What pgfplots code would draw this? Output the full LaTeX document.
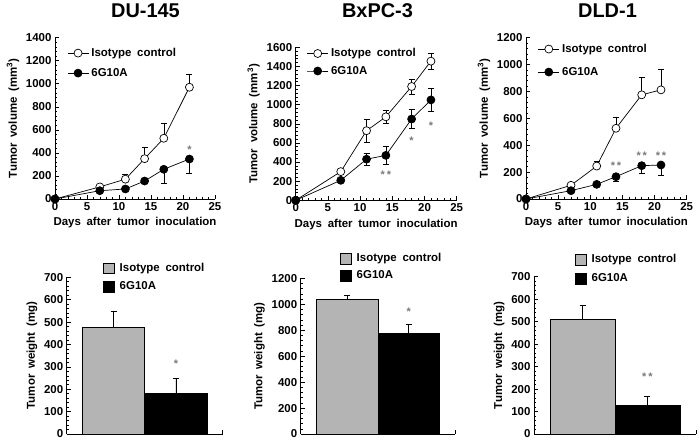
\documentclass[border=0pt]{standalone}
\usepackage{pgfplots}
\pgfplotsset{compat=1.18}
\usepackage{fontspec}
\setmainfont{Liberation Sans}[WordSpace=1.8]
\definecolor{bargray}{RGB}{180,180,180}
\definecolor{stargray}{RGB}{120,120,120}
\newcommand\lf{\bfseries\fontsize{11.5}{13}\selectfont}
\newcommand\tf{\bfseries\fontsize{20}{22}\selectfont}
\newcommand\starf{\bfseries\fontsize{11}{11}\selectfont}

\pgfplotsset{
  common/.style={
    scale only axis, clip=false,
    axis lines=left, axis line style={-, line width=0.8pt},
    tick align=inside, minor tick num=4,
    major tick length=4bp, minor tick length=2.2bp,
    every tick/.style={black, line width=0.6pt},
    /pgf/number format/assume math mode=true,
    /pgf/number format/1000 sep={},
    tick label style={font=\lf},
    label style={font=\lf},
    scaled y ticks=false,
    ymin=0, xmin=0,
    legend style={draw=none, fill=none, font=\lf, anchor=north west, inner sep=0pt,
      column sep=2bp,
      nodes={inner sep=0.5bp, text height=8.5bp, text depth=2.5bp}},
    legend cell align=left,
  },
  linep/.style={common, xmax=25, xtick={0,5,...,25},
    xlabel={Days after tumor inoculation},
    ylabel={Tumor volume (mm\textsuperscript{3})},
    legend image code/.code={\draw[mark repeat=2,mark phase=2,##1] plot coordinates {(0bp,0bp)(10.5bp,0bp)(21bp,0bp)};},
  },
  barp/.style={common, xmax=10, xtick={10}, xticklabels={}, minor x tick num=0,
    ylabel={Tumor weight (mg)},
    legend image code/.code={\draw[##1] (0bp,-5.3bp) rectangle (10.5bp,5.3bp);},
  },
  iso/.style={black, line width=0.7pt, mark=*, mark size=4bp, mark options={fill=white, line width=0.7pt}},
  anti/.style={black, line width=0.7pt, mark=*, mark size=4bp, mark options={fill=black}},
  eb/.style={error bars/.cd, y dir=#1, y explicit,
    error bar style={line width=0.6pt},
    error mark options={line width=0.6pt, mark size=3bp, rotate=90}},
}

\begin{document}
\begin{tikzpicture}
\useasboundingbox (0,0) rectangle (700bp,-441bp);

\node[font=\tf] at (145.5bp,-10.5bp) {DU-145};
\node[font=\tf] at (377.5bp,-10.5bp) {BxPC-3};
\node[font=\tf] at (607.5bp,-10.5bp) {DLD-1};

% ---------- DU-145 volume
\begin{axis}[linep, at={(55bp,-199bp)}, anchor=origin, width=160bp, height=161.3bp,
  ymax=1400, ytick={0,200,...,1400},
  legend style={at={(0.075,0.943)}, row sep=8bp}]
\addplot[iso, eb=plus] coordinates {(0,0) +- (0,0) (7,105) +- (0,15) (11,172) +- (0,40) (14,350) +- (0,100) (17,527) +- (0,130) (21,970) +- (0,115)};
\addlegendentry{Isotype control}
\addplot[anti, eb=minus] coordinates {(0,0) +- (0,0) (7,72) +- (0,10) (11,87) +- (0,10) (14,156) +- (0,20) (17,258) +- (0,122) (21,347) +- (0,127)};
\addlegendentry{6G10A}
\node[font=\starf, text=stargray] at (axis cs:21,430) {*};
\end{axis}

% ---------- BxPC-3 volume
\begin{axis}[linep, at={(295.7bp,-200.3bp)}, anchor=origin, width=161bp, height=153bp,
  ymax=1600, ytick={0,200,...,1600},
  legend style={at={(0.068,1.0)}, row sep=5.5bp}]
\addplot[iso, eb=both] coordinates {(0,0) +- (0,0) (7,300) +- (0,20) (11,728) +- (0,124) (14,873) +- (0,65) (18,1190) +- (0,78) (21,1455) +- (0,84)};
\addlegendentry{Isotype control}
\addplot[anti, eb=both] coordinates {(0,0) +- (0,0) (7,209) +- (0,15) (11,430) +- (0,62) (14,470) +- (0,98) (18,850) +- (0,97) (21,1050) +- (0,124)};
\addlegendentry{6G10A}
\node[font=\starf, text=stargray] at (axis cs:14,270) {*\,*};
\node[font=\starf, text=stargray] at (axis cs:18,625) {*};
\node[font=\starf, text=stargray] at (axis cs:21,775) {*};
\end{axis}

% ---------- DLD-1 volume
\begin{axis}[linep, at={(526bp,-199bp)}, anchor=origin, width=160.7bp, height=161.3bp,
  ymax=1200, ytick={0,200,...,1200},
  legend style={at={(0.073,0.968)}, row sep=11bp}]
\addplot[iso, eb=plus] coordinates {(0,0) +- (0,0) (7,102) +- (0,10) (11,245) +- (0,37) (14,526) +- (0,82) (18,775) +- (0,130) (21,812) +- (0,152)};
\addlegendentry{Isotype control}
\addplot[anti, eb=minus] coordinates {(0,0) +- (0,0) (7,62) +- (0,10) (11,109) +- (0,10) (14,166) +- (0,35) (18,248) +- (0,60) (21,253) +- (0,77)};
\addlegendentry{6G10A}
\node[font=\starf, text=stargray] at (axis cs:14,248) {*\,*};
\node[font=\starf, text=stargray] at (axis cs:18,325) {*\,*};
\node[font=\starf, text=stargray] at (axis cs:21,325) {*\,*};
\end{axis}

% ---------- DU-145 weight
\begin{axis}[barp, at={(66.7bp,-434bp)}, anchor=origin, width=156bp, height=156.7bp,
  ymax=700, ytick={0,100,...,700},
  legend style={at={(0.233,1.098)}, row sep=6.5bp, column sep=5bp}]
\addplot[ybar, bar shift=0pt, bar width=4, fill=bargray, draw=black, line width=0.5pt, eb=plus] coordinates {(3,476) +- (0,73)};
\addlegendentry{Isotype control}
\addplot[ybar, bar shift=0pt, bar width=4, fill=black, draw=black, line width=0.5pt, eb=plus] coordinates {(7,182) +- (0,65)};
\addlegendentry{6G10A}
\node[font=\starf, text=stargray] at (axis cs:7,313) {*};
\end{axis}

% ---------- BxPC-3 weight
\begin{axis}[barp, at={(300.7bp,-434bp)}, anchor=origin, width=154.3bp, height=155.7bp,
  ymax=1200, ytick={0,200,...,1200},
  legend style={at={(0.255,1.164)}, row sep=4.5bp, column sep=5bp}]
\addplot[ybar, bar shift=0pt, bar width=4, fill=bargray, draw=black, line width=0.5pt, eb=plus] coordinates {(3,1037) +- (0,35)};
\addlegendentry{Isotype control}
\addplot[ybar, bar shift=0pt, bar width=4, fill=black, draw=black, line width=0.5pt, eb=plus] coordinates {(7,777) +- (0,72)};
\addlegendentry{6G10A}
\node[font=\starf, text=stargray] at (axis cs:7,940) {*};
\end{axis}

% ---------- DLD-1 weight
\begin{axis}[barp, at={(534bp,-434bp)}, anchor=origin, width=162bp, height=157.3bp,
  ymax=700, ytick={0,100,...,700},
  legend style={at={(0.253,1.149)}, row sep=7bp, column sep=5bp}]
\addplot[ybar, bar shift=0pt, bar width=4, fill=bargray, draw=black, line width=0.5pt, eb=plus] coordinates {(3,510) +- (0,62)};
\addlegendentry{Isotype control}
\addplot[ybar, bar shift=0pt, bar width=4, fill=black, draw=black, line width=0.5pt, eb=plus] coordinates {(7,130) +- (0,37)};
\addlegendentry{6G10A}
\node[font=\starf, text=stargray] at (axis cs:7,253) {*\,*};
\end{axis}
\end{tikzpicture}
\end{document}
